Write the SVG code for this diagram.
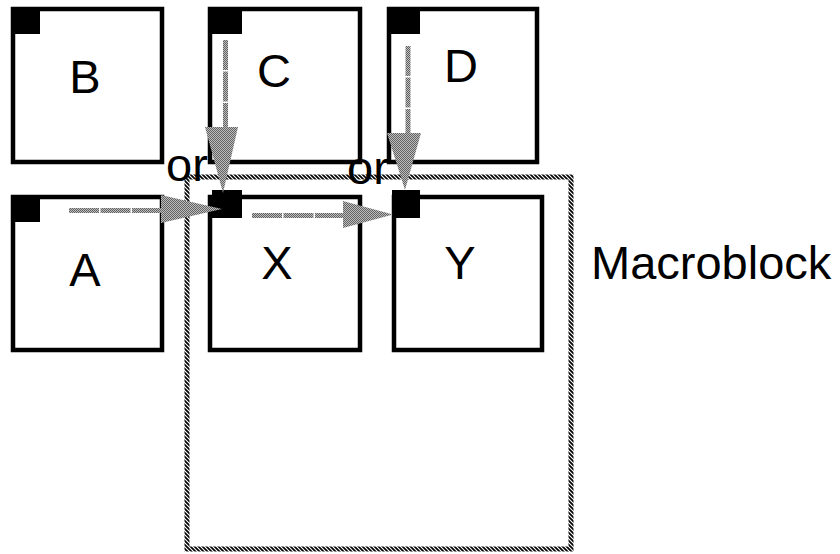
<svg xmlns="http://www.w3.org/2000/svg" width="840" height="554" viewBox="0 0 840 554">
  <defs>
    <!-- diagonal hatch used for the macroblock outline -->
    <pattern id="hatch" patternUnits="userSpaceOnUse" width="4" height="4">
      <rect width="4" height="4" fill="#ffffff"/>
      <path d="M-1,-1 L5,5 M-1,3 L1,5 M3,-1 L5,1" stroke="#000000" stroke-width="1.7"/>
    </pattern>
    <!-- fine checker used for the prediction arrows -->
    <pattern id="checker" patternUnits="userSpaceOnUse" width="2" height="2">
      <rect width="2" height="2" fill="#bdbdbd"/>
      <rect width="1" height="1" fill="#626262"/>
      <rect x="1" y="1" width="1" height="1" fill="#626262"/>
    </pattern>
    <style>
      .blk { fill: #ffffff; stroke: #000000; stroke-width: 4.5; }
      .corner { fill: #000000; }
      .lbl { font-family: "Liberation Sans", Arial, sans-serif; font-size: 47px; fill: #000000; }
      .mid { text-anchor: middle; }
      .shaft { stroke: url(#checker); stroke-width: 5; stroke-dasharray: 30 1.5; fill: none; }
      .head { fill: url(#checker); }
      .mb { fill: none; stroke: url(#hatch); stroke-width: 5; }
    </style>
  </defs>

  <rect width="840" height="554" fill="#ffffff"/>

  <!-- macroblock outline -->
  <g id="macroblock">
    <rect class="mb" x="187" y="177" width="384" height="372"/>
    <text class="lbl" x="591" y="279">Macroblock</text>
  </g>

  <!-- neighbouring blocks -->
  <g id="block-B">
    <rect class="blk" x="13" y="9" width="149" height="153"/>
    <rect class="corner" x="11" y="7" width="29" height="27"/>
    <text class="lbl mid" x="85" y="93">B</text>
  </g>
  <g id="block-C">
    <rect class="blk" x="210" y="9" width="150" height="153"/>
    <rect class="corner" x="208" y="7" width="34" height="27"/>
    <text class="lbl mid" x="274" y="87">C</text>
  </g>
  <g id="block-D">
    <rect class="blk" x="389" y="9" width="148" height="153"/>
    <rect class="corner" x="387" y="7" width="33" height="27"/>
    <text class="lbl mid" x="461" y="82">D</text>
  </g>
  <g id="block-A">
    <rect class="blk" x="13" y="197" width="149" height="153"/>
    <rect class="corner" x="11" y="195" width="29" height="27"/>
    <text class="lbl mid" x="85" y="286">A</text>
  </g>

  <!-- blocks of the current macroblock -->
  <g id="block-X">
    <rect class="blk" x="210" y="197" width="150" height="153"/>
    <rect class="corner" x="212" y="190" width="30" height="28"/>
    <text class="lbl mid" x="277" y="279">X</text>
  </g>
  <g id="block-Y">
    <rect class="blk" x="394" y="197" width="148" height="153"/>
    <rect class="corner" x="392" y="190" width="28" height="28"/>
    <text class="lbl mid" x="460" y="279">Y</text>
  </g>

  <!-- prediction arrows -->
  <g id="connectors">
    <line class="shaft" x1="69" y1="210.5" x2="162" y2="210.5"/>
    <polygon class="head" points="161,195 161,223 222,209"/>
    <line class="shaft" x1="252" y1="215.5" x2="344" y2="215.5"/>
    <polygon class="head" points="343,201 343,228 393,214.5"/>
    <line class="shaft" x1="225.5" y1="40" x2="225.5" y2="128"/>
    <polygon class="head" points="205,127 238,127 223,193"/>
    <line class="shaft" x1="408" y1="46" x2="408" y2="134"/>
    <polygon class="head" points="387,133 421,133 405,190"/>
  </g>

  <!-- alternative-neighbour labels -->
  <g id="labels">
    <text class="lbl" x="166" y="181">or</text>
    <text class="lbl" x="347" y="184">or</text>
  </g>
</svg>
